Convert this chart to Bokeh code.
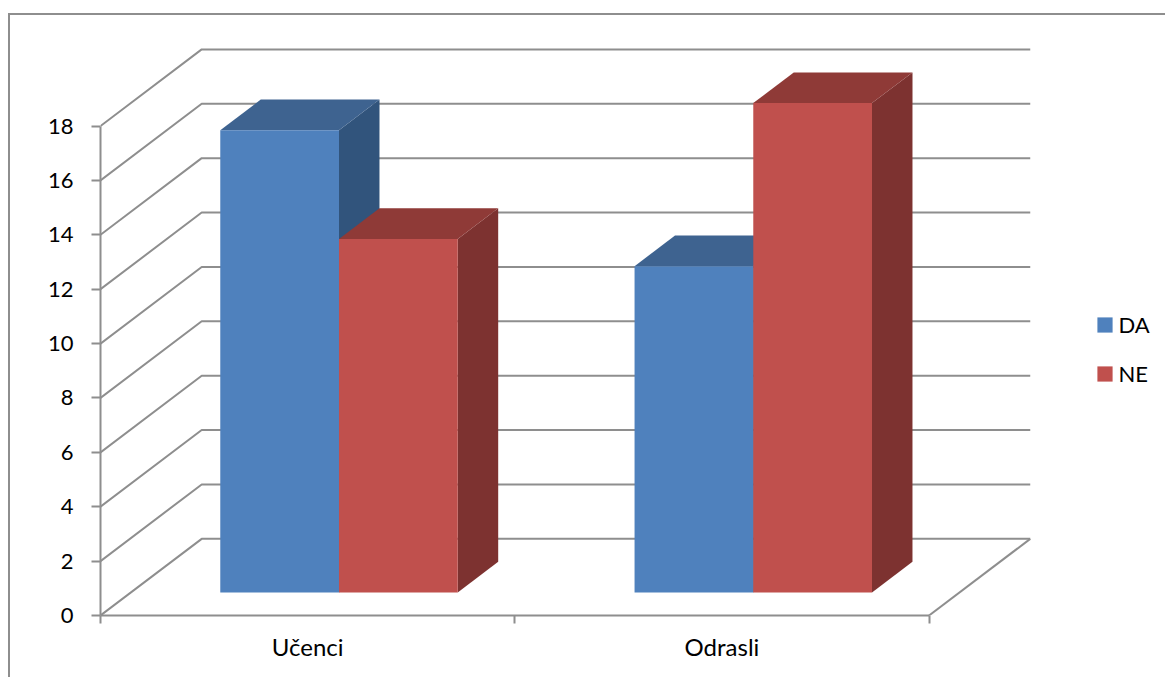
from bokeh.embed import file_html
from bokeh.resources import INLINE
from bokeh.plotting import figure
from bokeh.models import FixedTicker, Legend, LegendItem, Range1d

categories = ["Učenci", "Odrasli"]
series_names = ["DA", "NE"]
da_values = [17, 12]
ne_values = [13, 18]
y_ticks = list(range(0, 20, 2))

FRONT = ["#4F81BD", "#C0504D"]
TOP = ["#3E6390", "#8F3A37"]
SIDE = ["#31547C", "#7D3230"]
GRID = "#8E8E8E"
FONT = "Lato"

PX_PER_CAT = 413.5
PX_PER_UNIT = 27.1
DEPTH_X = 101 / PX_PER_CAT   # depth of the 3D box in data units
DEPTH_Y = 76.4 / PX_PER_UNIT
BAR_W = 118.5 / PX_PER_CAT
GAP = (1 - 2 * BAR_W) / 2 + 1 / PX_PER_CAT
D0, D1 = 0.3, 0.7            # bar front/back plane within the depth

BORDER = 2
W, H = 1157, 664
LEFT, RIGHT, BOTTOM, TOP_B = 90, 4, 64, 7
x_end = (W - BORDER - LEFT - RIGHT) / PX_PER_CAT
y_end = (H - BORDER - BOTTOM - TOP_B) / PX_PER_UNIT

p = figure(width=W, height=H, output_backend="svg", toolbar_location=None,
           x_range=Range1d(0, x_end), y_range=Range1d(0, y_end),
           min_border_left=LEFT, min_border_right=RIGHT,
           min_border_bottom=BOTTOM, min_border_top=TOP_B)
p.margin = (13, 0, 0, 8)
p.styles = {"border-left": "2px solid #8E8E8E", "border-top": "2px solid #8E8E8E"}
p.outline_line_color = None
p.grid.visible = False
p.background_fill_color = "white"

# 3D walls and floor
n = len(categories)
wall_x, wall_y = [], []
for t in y_ticks:
    wall_x.append([0, DEPTH_X, n + DEPTH_X])
    wall_y.append([t, t + DEPTH_Y, t + DEPTH_Y])
wall_x.append([n, n + DEPTH_X])
wall_y.append([0, DEPTH_Y])
p.multi_line(wall_x, wall_y, line_color=GRID, line_width=2)

# Bars
legend_items = []
for s, vals in enumerate([da_values, ne_values]):
    fx, fb, ft = [], [], []
    top_xs, top_ys, side_xs, side_ys = [], [], [], []
    for i, v in enumerate(vals):
        x0 = i + GAP + s * BAR_W + D0 * DEPTH_X
        x1 = x0 + BAR_W
        b = D0 * DEPTH_Y
        t = v + b
        dx = (D1 - D0) * DEPTH_X
        dy = (D1 - D0) * DEPTH_Y
        fx.append((x0, x1))
        fb.append(b)
        ft.append(t)
        top_xs.append([x0, x1, x1 + dx, x0 + dx])
        top_ys.append([t, t, t + dy, t + dy])
        side_xs.append([x1, x1 + dx, x1 + dx, x1])
        side_ys.append([b, b + dy, t + dy, t])
    p.patches(side_xs, side_ys, fill_color=SIDE[s], line_color=None)
    p.patches(top_xs, top_ys, fill_color=TOP[s], line_color=None)
    r = p.quad(left=[a for a, _ in fx], right=[c for _, c in fx], bottom=fb, top=ft,
               fill_color=FRONT[s], line_color=None)
    legend_items.append(LegendItem(label=series_names[s], renderers=[r]))

# Axes
ya = p.yaxis[0]
ya.ticker = FixedTicker(ticks=y_ticks)
ya.bounds = (0, 18)
ya.axis_line_color = GRID
ya.axis_line_width = 2
ya.major_tick_line_color = GRID
ya.major_tick_line_width = 2
ya.major_tick_in = 0
ya.major_tick_out = 9
ya.minor_tick_line_color = None
ya.major_label_standoff = 18
ya.major_label_text_font = FONT
ya.major_label_text_font_size = "22px"
ya.major_label_text_color = "#000000"

xa = p.xaxis[0]
xa.ticker = FixedTicker(ticks=[i + 0.5 for i in range(n)], minor_ticks=list(range(n + 1)))
xa.major_label_overrides = {i + 0.5: c for i, c in enumerate(categories)}
xa.bounds = (0, n)
xa.axis_line_color = GRID
xa.axis_line_width = 2
xa.major_tick_line_color = None
xa.major_tick_in = 0
xa.major_tick_out = 0
xa.minor_tick_line_color = GRID
xa.minor_tick_line_width = 2
xa.minor_tick_in = 0
xa.minor_tick_out = 8
xa.major_label_standoff = 8
xa.major_label_text_font = FONT
xa.major_label_text_font_size = "24px"
xa.major_label_text_color = "#000000"

legend = Legend(items=legend_items, location=(994.5, 228), orientation="vertical",
                border_line_color=None, background_fill_alpha=0,
                padding=0, margin=0, glyph_width=19, glyph_height=19,
                label_standoff=5, spacing=22, label_height=26,
                label_text_font=FONT, label_text_font_size="22px", label_text_color="#000000")
p.add_layout(legend)

open("out.html", "w").write(file_html(p, INLINE))
